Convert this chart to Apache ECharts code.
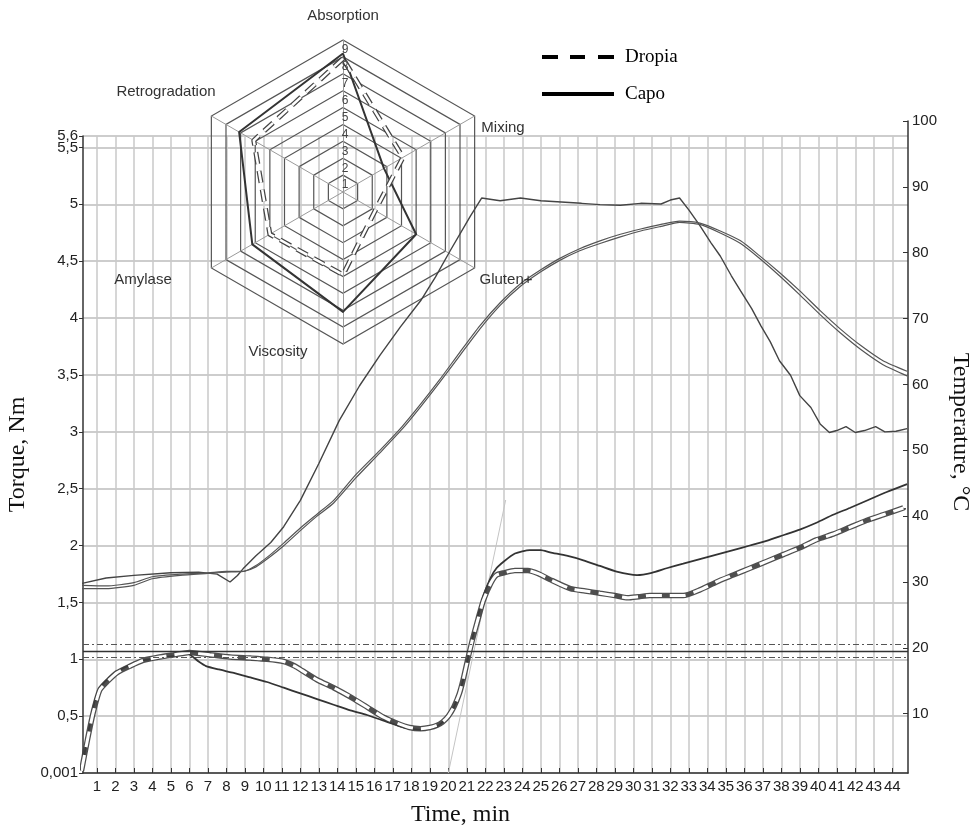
<!DOCTYPE html>
<html><head><meta charset="utf-8">
<script src="https://cdn.jsdelivr.net/npm/echarts@6/dist/echarts.min.js"></script>
<style>html,body{margin:0;padding:0;background:#fff}#c{width:975px;height:834px}</style>
</head><body><div id="c"></div>
<script>
// ---------- ticks ----------
const minuteTicks = [1,2,3,4,5,6,7,8,9,10,11,12,13,14,15,16,17,18,19,20,21,22,23,24,25,26,27,28,29,30,31,32,33,34,35,36,37,38,39,40,41,42,43,44];
const torqueTicks = [0,0.5,1,1.5,2,2.5,3,3.5,4,4.5,5,5.5,5.6];
const torqueLabels = [0,0.5,1,1.5,2,2.5,3,3.5,4,4.5,5,5.5];
const torqueTopLabel = [5.6];
const tempTicks = [10,20,30,40,50,60,70,80,90,100];

// ---------- torque (Nm) ----------
const dropiaTime = [0.17,0.5,0.8,1.16,1.6,2.07,2.8,3.5,4.4,5.2,6.0,7.1,8.2,9.3,10.2,11.1,11.7,12.1,12.9,13.8,14.7,15.6,16.5,17.2,17.9,18.5,19.0,19.4,19.7,20.0,20.3,20.6,20.8,21.05,21.3,21.6,21.9,22.3,22.6,23.0,23.6,24.3,24.9,25.5,26.6,27.4,28.2,29.0,29.7,30.3,30.9,31.8,32.7,33.6,34.5,35.4,36.3,37.2,38.1,39.0,39.9,40.8,41.7,42.6,43.5,44.6];
const dropiaTorque = [0.02,0.30,0.53,0.73,0.81,0.88,0.94,0.99,1.02,1.04,1.06,1.04,1.02,1.01,1.00,0.98,0.94,0.90,0.82,0.75,0.67,0.58,0.49,0.44,0.40,0.39,0.40,0.42,0.45,0.50,0.58,0.70,0.82,1.00,1.17,1.35,1.52,1.67,1.74,1.76,1.78,1.78,1.75,1.70,1.62,1.60,1.58,1.56,1.54,1.55,1.56,1.56,1.56,1.61,1.68,1.74,1.80,1.86,1.92,1.98,2.05,2.10,2.16,2.22,2.27,2.33];
const capoTime = [0.17,0.5,0.8,1.16,1.6,2.07,2.8,3.5,4.4,5.2,5.9,6.5,6.9,7.6,8.4,9.3,10.2,11.1,12.0,12.9,13.8,14.7,15.6,16.5,17.4,17.9,18.5,19.0,19.4,19.7,20.0,20.3,20.6,20.8,21.05,21.3,21.6,21.9,22.3,22.6,23.0,23.6,24.4,25.0,25.5,26.4,27.3,28.2,29.1,30.2,31.0,31.8,32.7,33.6,34.5,35.4,36.3,37.2,38.1,39.0,39.9,40.8,41.7,42.7,43.7,44.8];
const capoTorque = [0.02,0.32,0.58,0.75,0.83,0.89,0.95,0.99,1.01,1.03,1.05,0.98,0.94,0.91,0.88,0.84,0.80,0.75,0.70,0.65,0.60,0.55,0.51,0.46,0.41,0.39,0.38,0.39,0.41,0.45,0.50,0.58,0.70,0.82,1.00,1.18,1.38,1.56,1.72,1.80,1.86,1.93,1.96,1.96,1.94,1.91,1.87,1.82,1.77,1.74,1.76,1.80,1.84,1.88,1.92,1.96,2.00,2.04,2.09,2.14,2.20,2.27,2.33,2.40,2.47,2.54];
const faintTime = [20.0, 23.1];
const faintTorque = [0.0, 2.4];
const targetTorque = 1.07, toleranceHigh = 1.125, toleranceLow = 1.02;

// ---------- temperature (°C) ----------
const tempATime = [0.2,1.5,3.0,5.0,6.5,7.5,8.2,8.6,8.9,9.6,10.4,11.1,12.0,13.0,14.1,15.2,16.3,17.4,18.5,19.3,20.1,21.2,21.8,22.8,23.9,25.0,26.1,27.2,28.2,29.3,30.4,31.5,32.0,32.5,33.0,33.6,34.2,34.7,35.3,35.8,36.4,36.9,37.4,37.9,38.5,39.0,39.6,40.1,40.6,41.0,41.5,42.0,42.5,43.1,43.6,44.2,44.8];
const tempA = [29.8,30.6,31.0,31.4,31.5,31.2,30.0,31.0,32.0,34.0,36.0,38.4,42.4,48.0,54.5,59.8,64.4,68.7,72.7,76.3,80.3,85.6,88.3,87.9,88.3,87.9,87.7,87.5,87.3,87.2,87.5,87.4,88.0,88.3,86.5,84.1,81.5,79.5,76.5,74.2,71.5,68.9,66.5,63.6,61.4,58.3,56.5,54.0,52.7,53.0,53.6,52.7,53.0,53.6,52.8,52.9,53.3];
const tempBCTime = [0.2,1.5,3.0,4.0,5.5,7.0,8.0,8.9,9.6,10.4,11.1,12.0,12.9,13.8,15.0,16.3,17.5,18.5,19.5,20.6,21.7,22.8,23.9,25.0,26.0,27.1,28.2,29.3,30.4,31.5,32.5,33.6,34.7,35.8,36.8,37.9,39.0,40.1,41.2,42.3,43.5,44.8];
const tempB = [29.5,29.4,29.9,30.8,31.2,31.4,31.6,31.6,32.5,34.2,35.9,38.2,40.3,42.4,46.3,50.0,53.6,57.0,60.6,64.8,68.9,72.4,75.3,77.4,79.1,80.6,81.8,82.8,83.6,84.3,84.8,84.5,83.3,81.8,79.6,77.0,74.2,71.2,68.4,65.9,63.6,62.0];
const tempC = [29.0,29.0,29.5,30.5,31.0,31.3,31.5,31.6,32.3,33.9,35.5,37.8,40.0,42.0,45.8,49.6,53.2,56.6,60.2,64.3,68.4,72.0,74.9,77.1,78.8,80.3,81.4,82.4,83.3,84.0,84.6,84.3,83.0,81.4,79.2,76.5,73.6,70.6,67.8,65.3,63.0,61.3];

// ---------- radar profile ----------
const radarAxes = ['Absorption','Retrogradation','Amylase','Viscosity','Gluten+','Mixing'];
const radarDropia = [7.9,6.1,5.0,4.9,2.2,4.1];
const radarCapo = [8.2,7.1,6.2,7.1,5.0,2.8];
const radarRings = [1,2,3,4,5,6,7,8,9];

// ---------- layout ----------
const RC = [343, 192], RR = 152;
const SANS = 'Liberation Sans, Arial, sans-serif';
const SERIF = 'Liberation Serif, Times New Roman, serif';
const zip = (a, b) => a.map((v, i) => [v, b[i]]);
const commaFmt = v => v === 0 ? '0,001' : String(v).replace('.', ',');

const radarNamePos = {
  'Absorption': [343, 16], 'Retrogradation': [166, 92], 'Mixing': [503, 128],
  'Gluten+': [506, 280], 'Viscosity': [278, 352], 'Amylase': [143, 280]
};
const graphics = [];
radarAxes.forEach(n => graphics.push({type:'text', x: radarNamePos[n][0], y: radarNamePos[n][1], z: 50,
  style:{text:n, font:'15px ' + SANS, fill:'#333', align:'center', verticalAlign:'middle'}}));
radarRings.forEach(k => graphics.push({type:'text', x: RC[0] + 2, y: RC[1] - RR * k / 9 + 4, z: 50,
  style:{text:String(k), font:'12px ' + SANS, fill:'#444', align:'center', verticalAlign:'top'}}));

const chart = echarts.init(document.getElementById('c'), null, {renderer:'canvas'});
const dashPat = [12, 7];
chart.setOption({
  animation: false,
  backgroundColor: '#fff',
  grid: [
    {left: 83, right: 67, top: 136, bottom: 61, containLabel: false, outerBoundsMode: 'none'},
    {left: 83, right: 67, top: 121, bottom: 61, containLabel: false, outerBoundsMode: 'none'}
  ],
  xAxis: [
    {type:'value', gridIndex:0, min:0.25, max:44.85,
     name:'Time, min', nameLocation:'middle', nameGap:30,
     nameTextStyle:{fontFamily:SERIF, fontSize:24, color:'#111', padding:[0,70,0,0]},
     axisLine:{lineStyle:{color:'#333', width:1.5}},
     axisTick:{inside:true, length:5, customValues:minuteTicks, lineStyle:{color:'#333'}},
     axisLabel:{customValues:minuteTicks, fontFamily:SANS, fontSize:15, color:'#222', margin:6, hideOverlap:false},
     splitLine:{show:true, lineStyle:{color:'#c8c8c8', width:1.5}}},
    {type:'value', gridIndex:1, min:0.25, max:44.85, show:false}
  ],
  yAxis: [
    {type:'value', gridIndex:0, position:'left', min:0, max:5.6,
     name:'Torque, Nm', nameLocation:'middle', nameGap:48, nameRotate:90,
     nameTextStyle:{fontFamily:SERIF, fontSize:24, color:'#111'},
     axisLine:{show:true, lineStyle:{color:'#333', width:1.5}},
     axisTick:{show:true, length:4, customValues:torqueTicks, lineStyle:{color:'#333'}},
     axisLabel:{customValues:torqueLabels, fontFamily:SANS, fontSize:15, color:'#222', margin:5, hideOverlap:false,
       showMinLabel:true, formatter: commaFmt},
     splitLine:{show:true, lineStyle:{color:'#bdbdbd', width:1.5}}},
    {type:'value', gridIndex:1, position:'right', min:1, max:100,
     name:'Temperature, °C', nameLocation:'middle', nameGap:32, nameRotate:-90,
     nameTextStyle:{fontFamily:SERIF, fontSize:24, color:'#111', padding:[0,30,0,0]},
     axisLine:{show:true, lineStyle:{color:'#333', width:1.5}},
     axisTick:{show:true, inside:true, length:5, customValues:tempTicks, lineStyle:{color:'#333'}},
     axisLabel:{customValues:tempTicks, fontFamily:SANS, fontSize:15, color:'#222', margin:4, hideOverlap:false,
       showMaxLabel:true},
     splitLine:{show:false}},
    {type:'value', gridIndex:0, position:'left', min:0, max:5.6,
     axisLine:{show:false}, axisTick:{show:false}, splitLine:{show:false},
     axisLabel:{customValues:torqueTopLabel, fontFamily:SANS, fontSize:15, color:'#222', margin:5,
       showMaxLabel:true, formatter: commaFmt, padding:[0,0,8,0]}}
  ],
  radar: {
    center: RC, radius: RR, startAngle: 90, splitNumber: 9, shape: 'polygon',
    indicator: radarAxes.map(n => ({name:n, min:0, max:9})),
    axisName: {show:false},
    axisLine: {lineStyle:{color:'#9a9a9a', width:1}},
    splitLine: {lineStyle:{color:'#555', width:1.2}},
    splitArea: {show:false},
    z: 3
  },
  legend: {
    left: 537, top: 42, orient:'vertical', itemWidth:72, itemHeight:4, itemGap:17,
    textStyle:{fontFamily:SERIF, fontSize:19, color:'#000', padding:[0,0,0,6], lineHeight:20},
    itemStyle:{borderWidth:0},
    data:[
      {name:'Dropia', icon:'path://M0,0h16v4h-16zM28,0h15v4h-15zM56,0h16v4h-16z', itemStyle:{color:'#000', borderWidth:0}},
      {name:'Capo', icon:'path://M0,0h72v4h-72z', itemStyle:{color:'#000', borderWidth:0}}
    ]
  },
  graphic: graphics,
  series: [
    {name:'Capo', type:'radar', radarIndex:0, symbol:'none', z:4,
     lineStyle:{color:'#333', width:2}, itemStyle:{color:'#333'},
     data:[{name:'Capo', value: radarCapo}]},
    {name:'Dropia outline', type:'radar', radarIndex:0, symbol:'none', z:4,
     lineStyle:{color:'#444', width:5, type:dashPat}, itemStyle:{color:'#444'},
     data:[{name:'Dropia outline', value: radarDropia}]},
    {name:'Dropia', type:'radar', radarIndex:0, symbol:'none', z:5,
     lineStyle:{color:'#fff', width:2.5, type:dashPat}, itemStyle:{color:'#fff'},
     data:[{name:'Dropia', value: radarDropia}]},

    {name:'Target', type:'line', xAxisIndex:0, yAxisIndex:0, data:[], silent:true,
     markLine:{symbol:'none', silent:true, label:{show:false},
       data:[
         {yAxis: targetTorque, lineStyle:{color:'#333', width:1.3, type:'solid'}},
         {yAxis: toleranceHigh, lineStyle:{color:'#555', width:1.2, type:[6,3,2,3]}},
         {yAxis: toleranceLow, lineStyle:{color:'#555', width:1.2, type:[6,3,2,3]}}
       ]}},
    {name:'faint', type:'line', xAxisIndex:0, yAxisIndex:0, symbol:'none',
     lineStyle:{color:'#c4c4c4', width:1}, data: zip(faintTime, faintTorque)},

    {name:'TempA', type:'line', xAxisIndex:1, yAxisIndex:1, symbol:'none',
     lineStyle:{color:'#444', width:1.4}, data: zip(tempATime, tempA)},
    {name:'TempB', type:'line', xAxisIndex:1, yAxisIndex:1, symbol:'none', smooth:0.2,
     lineStyle:{color:'#555', width:1.2}, data: zip(tempBCTime, tempB)},
    {name:'TempC', type:'line', xAxisIndex:1, yAxisIndex:1, symbol:'none', smooth:0.2,
     lineStyle:{color:'#555', width:1.2}, data: zip(tempBCTime, tempC)},

    {name:'Capo torque', type:'line', xAxisIndex:0, yAxisIndex:0, symbol:'none', smooth:0.2,
     lineStyle:{color:'#333', width:1.8}, data: zip(capoTime, capoTorque)},
    {name:'Dropia band', type:'line', xAxisIndex:0, yAxisIndex:0, symbol:'none', smooth:0.2,
     lineStyle:{color:'#3c3c3c', width:5.5, opacity:0.9}, data: zip(dropiaTime, dropiaTorque)},
    {name:'Dropia torque', type:'line', xAxisIndex:0, yAxisIndex:0, symbol:'none', smooth:0.2,
     lineStyle:{color:'#fff', width:3, type:[16,8]}, data: zip(dropiaTime, dropiaTorque)}
  ]
});
</script></body></html>
